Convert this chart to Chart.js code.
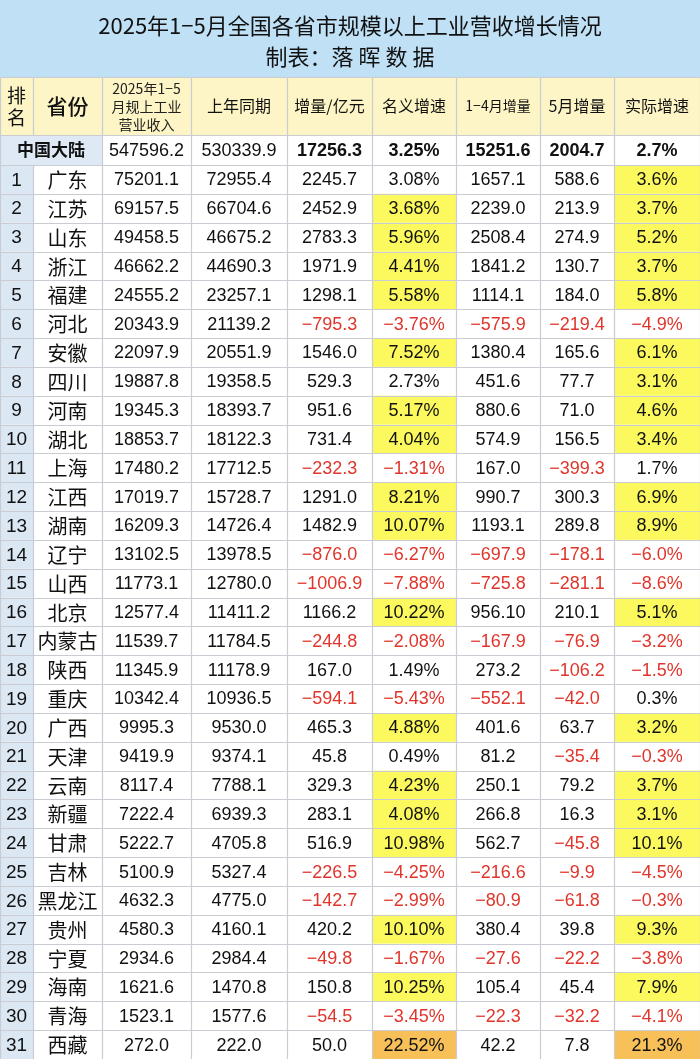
<!DOCTYPE html>
<html><head><meta charset="utf-8">
<script src="https://cdn.jsdelivr.net/npm/chart.js@4/dist/chart.umd.min.js"></script>
<style>html,body{margin:0;padding:0;background:#fff}#w{width:700px;height:1059px}</style>
</head><body><div id="w"><canvas id="c"></canvas></div>
<script>
const title = "2025年1−5月全国各省市规模以上工业营收增长情况";
const subtitle = "制表：落 晖 数 据";
const headers = ["排名","省份","2025年1−5\n月规上工业\n营业收入","上年同期","增量/亿元","名义增速","1−4月增量","5月增量","实际增速"];
const totalRow = ["中国大陆","547596.2","530339.9","17256.3","3.25%","15251.6","2004.7","2.7%"];
const provinces = ["广东","江苏","山东","浙江","福建","河北","安徽","四川","河南","湖北","上海","江西","湖南","辽宁","山西","北京","内蒙古","陕西","重庆","广西","天津","云南","新疆","甘肃","吉林","黑龙江","贵州","宁夏","海南","青海","西藏"];
const revenue = ["75201.1","69157.5","49458.5","46662.2","24555.2","20343.9","22097.9","19887.8","19345.3","18853.7","17480.2","17019.7","16209.3","13102.5","11773.1","12577.4","11539.7","11345.9","10342.4","9995.3","9419.9","8117.4","7222.4","5222.7","5100.9","4632.3","4580.3","2934.6","1621.6","1523.1","272.0"];
const lastYear = ["72955.4","66704.6","46675.2","44690.3","23257.1","21139.2","20551.9","19358.5","18393.7","18122.3","17712.5","15728.7","14726.4","13978.5","12780.0","11411.2","11784.5","11178.9","10936.5","9530.0","9374.1","7788.1","6939.3","4705.8","5327.4","4775.0","4160.1","2984.4","1470.8","1577.6","222.0"];
const increase = ["2245.7","2452.9","2783.3","1971.9","1298.1","-795.3","1546.0","529.3","951.6","731.4","-232.3","1291.0","1482.9","-876.0","-1006.9","1166.2","-244.8","167.0","-594.1","465.3","45.8","329.3","283.1","516.9","-226.5","-142.7","420.2","-49.8","150.8","-54.5","50.0"];
const nominal = ["3.08%","3.68%","5.96%","4.41%","5.58%","-3.76%","7.52%","2.73%","5.17%","4.04%","-1.31%","8.21%","10.07%","-6.27%","-7.88%","10.22%","-2.08%","1.49%","-5.43%","4.88%","0.49%","4.23%","4.08%","10.98%","-4.25%","-2.99%","10.10%","-1.67%","10.25%","-3.45%","22.52%"];
const inc14 = ["1657.1","2239.0","2508.4","1841.2","1114.1","-575.9","1380.4","451.6","880.6","574.9","167.0","990.7","1193.1","-697.9","-725.8","956.10","-167.9","273.2","-552.1","401.6","81.2","250.1","266.8","562.7","-216.6","-80.9","380.4","-27.6","105.4","-22.3","42.2"];
const inc5 = ["588.6","213.9","274.9","130.7","184.0","-219.4","165.6","77.7","71.0","156.5","-399.3","300.3","289.8","-178.1","-281.1","210.1","-76.9","-106.2","-42.0","63.7","-35.4","79.2","16.3","-45.8","-9.9","-61.8","39.8","-22.2","45.4","-32.2","7.8"];
const real = ["3.6%","3.7%","5.2%","3.7%","5.8%","-4.9%","6.1%","3.1%","4.6%","3.4%","1.7%","6.9%","8.9%","-6.0%","-8.6%","5.1%","-3.2%","-1.5%","0.3%","3.2%","-0.3%","3.7%","3.1%","10.1%","-4.5%","-0.3%","9.3%","-3.8%","7.9%","-4.1%","21.3%"];

const colEdges = [0,33,102,191,287,372,456,540,614,700];
const rowTop = 165, rowH = (1059-165)/31;
const FONT = '"Liberation Sans","Noto Sans CJK SC",sans-serif';
const CJK = '"Noto Sans CJK SC",sans-serif';

const tablePlugin = {
  id:'table',
  afterDraw(chart){
    const {ctx, scales:{x,y}} = chart;
    const X = v=>x.getPixelForValue(v), Y = v=>y.getPixelForValue(v);
    const cell=(c0,c1,r0,r1,fill)=>{ctx.fillStyle=fill;ctx.fillRect(X(c0),Y(r0),X(c1)-X(c0),Y(r1)-Y(r0));};
    const text=(s,cx,cy,font,color)=>{ctx.font=font;ctx.fillStyle=color;ctx.textAlign='center';ctx.textBaseline='middle';ctx.fillText(s,cx,cy);};
    const disp=s=>s.replace(/-/g,'−');
    ctx.save();
    cell(0,700,0,77,'#bfe0f5');
    text(title,X(350),Y(26),'400 22px '+CJK,'#111');
    text(subtitle,X(350),Y(57),'400 22px '+CJK,'#111');
    cell(0,700,77,135,'#fdf5c5');
    for(let i=0;i<9;i++){
      const cx=(X(colEdges[i])+X(colEdges[i+1]))/2;
      if(i===2){const ls=headers[i].split('\n');ls.forEach((l,k)=>text(l,cx,Y(89+k*18),'14px '+CJK,'#222'));}
      else if(i===0){text('排',cx,Y(96),'19px '+CJK,'#111');text('名',cx,Y(118),'19px '+CJK,'#111');}
      else if(i===1){text(headers[i],cx,Y(106),'500 21px '+CJK,'#111');}
      else text(headers[i],cx,Y(106),(i===6?'14px ':'16px ')+CJK,'#111');
    }
    cell(0,700,135,165,'#ffffff');
    cell(0,102,135,165,'#dfe9f5');
    text(totalRow[0],X(51),Y(150),'bold 17px '+CJK,'#111');
    for(let j=1;j<8;j++){
      const c=j+1, cx=(X(colEdges[c])+X(colEdges[c+1]))/2;
      text(totalRow[j],cx,Y(151),(j>=3?'bold ':'')+'18px '+FONT,'#111');
    }
    const cols=[revenue,lastYear,increase,nominal,inc14,inc5,real];
    provinces.forEach((p,i)=>{
      const r0=rowTop+i*rowH, r1=r0+rowH, cy=Y((r0+r1)/2+1);
      cell(0,33,r0,r1,'#dce7f4');
      const top = i===provinces.length-1;
      if(top){cell(colEdges[5],colEdges[6],r0,r1,'#f8c058');cell(colEdges[8],colEdges[9],r0,r1,'#f8c058');}
      else{
        if(parseFloat(nominal[i])>parseFloat(totalRow[4])) cell(colEdges[5],colEdges[6],r0,r1,'#fbf95d');
        if(parseFloat(real[i])>parseFloat(totalRow[7])) cell(colEdges[8],colEdges[9],r0,r1,'#fbf95d');
      }
      text(String(i+1),X(16.5),cy,'19px '+FONT,'#111');
      text(p,X(67.5),cy,'20px '+CJK,'#111');
      cols.forEach((arr,k)=>{
        const c=k+2, cx=(X(colEdges[c])+X(colEdges[c+1]))/2;
        const neg=arr[i].startsWith('-');
        text(disp(arr[i]),cx,cy,'18px '+FONT,neg?'#e0352b':'#111');
      });
    });
    ctx.strokeStyle='#c9ccd2';ctx.lineWidth=1.2;
    ctx.beginPath();
    const hl=v=>{ctx.moveTo(X(0),Math.round(Y(v))+0.5);ctx.lineTo(X(700),Math.round(Y(v))+0.5);};
    hl(77);hl(135);hl(165);
    for(let i=1;i<=31;i++) hl(rowTop+i*rowH);
    colEdges.forEach((e,k)=>{
      const px=Math.round(X(e))+0.5;
      if(k===1){ctx.moveTo(px,Y(77));ctx.lineTo(px,Y(135));ctx.moveTo(px,Y(165));ctx.lineTo(px,Y(1059));}
      else {ctx.moveTo(px,Y(77));ctx.lineTo(px,Y(1059));}
    });
    ctx.stroke();
    ctx.restore();
  }
};

new Chart(document.getElementById('c'),{
  type:'scatter',
  data:{datasets:[{data:[],pointRadius:0}]},
  options:{
    responsive:true,maintainAspectRatio:false,animation:false,
    layout:{padding:0},
    plugins:{legend:{display:false},tooltip:{enabled:false}},
    scales:{
      x:{type:'linear',min:0,max:700,display:false},
      y:{type:'linear',min:0,max:1059,reverse:true,display:false}
    }
  },
  plugins:[tablePlugin]
});
</script></body></html>
